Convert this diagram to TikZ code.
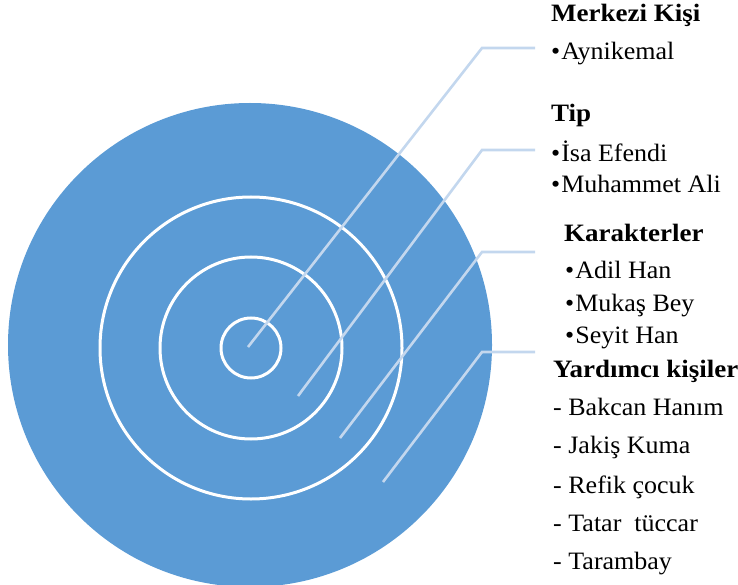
\documentclass[tikz,border=0pt]{standalone}
\usepackage{fontspec}
\setmainfont{Liberation Serif}[FakeStretch=1.04, BoldFeatures={FakeStretch=1.08}]
\definecolor{ringblue}{HTML}{5B9BD5}
\definecolor{leadblue}{HTML}{C3D7EE}
\tikzset{
  ring/.style={draw=white, line width=3pt},
  lead/.style={draw=leadblue, line width=2.6pt},
  head/.style={anchor=base west, inner sep=0pt, font=\fontsize{25}{28}\selectfont\bfseries},
  item/.style={anchor=base west, inner sep=0pt, font=\fontsize{25}{28}\selectfont},
}
\begin{document}
\begin{tikzpicture}[x=1pt,y=-1pt]
\useasboundingbox (0,0) rectangle (738,585);
\fill[ringblue] (250,345) circle (242);
\draw[ring] (251,348) circle (151);
\draw[ring] (251,348) circle (91);
\draw[ring] (251,348) circle (30);
% lead coordinates
\coordinate (p1) at (248,347); \coordinate (b1) at (482,48); \coordinate (e1) at (535,48);
\coordinate (p2) at (298,396); \coordinate (b2) at (482,150); \coordinate (e2) at (535,150);
\coordinate (p3) at (340,438); \coordinate (b3) at (482,252); \coordinate (e3) at (535,252);
\coordinate (p4) at (383,482); \coordinate (b4) at (482,352); \coordinate (e4) at (535,352);
\draw[lead] (p1) -- (b1) -- (e1);
\draw[lead] (p2) -- (b2) -- (e2);
\draw[lead] (p3) -- (b3) -- (e3);
\draw[lead] (p4) -- (b4) -- (e4);
% texts
\node[head] (h1) at (551,22) {Merkezi Kişi};
\node[item] (t11) at (551,60) {•\kern1pt Aynikemal};
\node[head] (h2) at (551,122) {Tip};
\node[item] (t21) at (551,162) {•\kern1pt İsa Efendi};
\node[item] (t22) at (551,193) {•\kern1pt Muhammet Ali};
\node[head] (h3) at (564,241) {Karakterler};
\node[item] (t31) at (565,278) {•\kern1pt Adil Han};
\node[item] (t32) at (565,311) {•\kern1pt Mukaş Bey};
\node[item] (t33) at (565,343) {•\kern1pt Seyit Han};
\node[head] (h4) at (553,377) {Yardımcı kişiler};
\node[item] (t41) at (553,415) {- Bakcan Hanım};
\node[item] (t42) at (553,453) {- Jakiş Kuma};
\node[item] (t43) at (553,493) {- Refik çocuk};
\node[item] (t44) at (553,531) {- Tatar\ \ tüccar};
\node[item] (t45) at (553,569) {- Tarambay};
\end{tikzpicture}
\end{document}
